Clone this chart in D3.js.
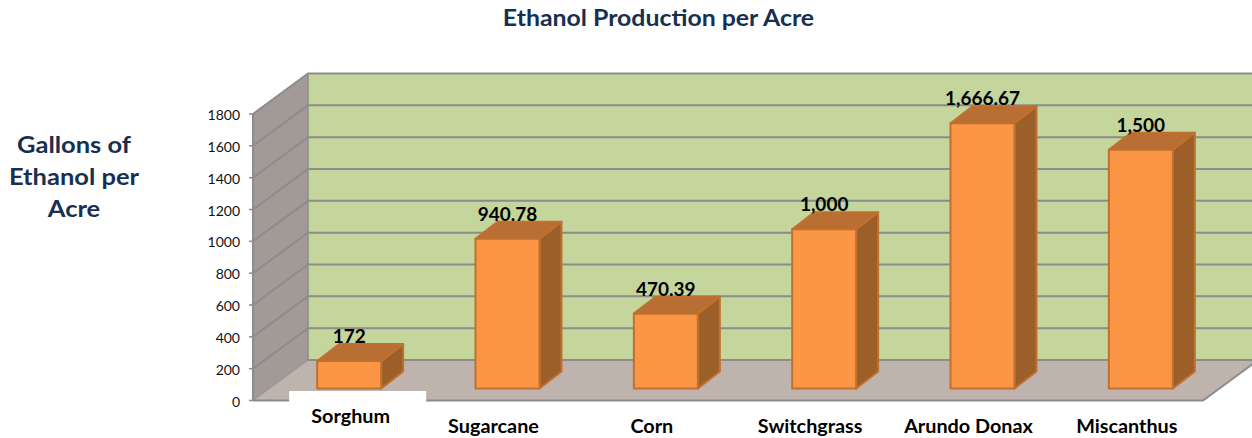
<!DOCTYPE html>
<html>
<head>
<meta charset="utf-8">
<script src="https://d3js.org/d3.v7.min.js"></script>
<style>
  html, body { margin: 0; padding: 0; background: #fff; }
  svg { display: block; }
  text { font-family: Lato, "Open Sans", sans-serif; }
</style>
</head>
<body>
<div id="chart"></div>
<script>
const categories = ["Sorghum", "Sugarcane", "Corn", "Switchgrass", "Arundo Donax", "Miscanthus"];
const values = [172, 940.78, 470.39, 1000, 1666.67, 1500];
const valueLabels = ["172", "940.78", "470.39", "1,000", "1,666.67", "1,500"];
const yTicks = [0, 200, 400, 600, 800, 1000, 1200, 1400, 1600, 1800];
const yTitleLines = ["Gallons of", "Ethanol per", "Acre"];
const chartTitle = "Ethanol Production per Acre";

const width = 1252, height = 438;
const NAVY = "#17304f";

// 3D 盒子的进深
const WALL_DX = 55, WALL_DY = -40.5;
const BAR_DX = 22, BAR_DY = -17;
const FRONT_LEFT = 253, FRONT_RIGHT = 1203;

const svg = d3.select("#chart").append("svg")
    .attr("width", width)
    .attr("height", height);

// 前平面的 Y 轴比例尺
const y = d3.scaleLinear().domain([0, 1800]).range([400.5, 114]);
// 柱子站在离前沿稍靠里的平面上
const barY = d3.scaleLinear().domain([0, 1800]).range([388.5, 102]);

const x = d3.scaleBand()
    .domain(categories)
    .range([FRONT_LEFT + 17, FRONT_RIGHT + 17])
    .paddingInner(0.596)
    .paddingOuter(0.298);

const poly = pts => pts.map(p => p.join(",")).join(" ");

// 原图的字比 Lato 宽，按比例横向拉伸
const stretch = (sel, factor) => {
    const len = sel.node().getComputedTextLength();
    sel.attr("textLength", len * factor).attr("lengthAdjust", "spacingAndGlyphs");
};

// 背板
svg.append("polygon")
    .attr("points", poly([
        [FRONT_LEFT + WALL_DX, y(1800) + WALL_DY],
        [width + 2, y(1800) + WALL_DY],
        [width + 2, y(0) + WALL_DY],
        [FRONT_LEFT + WALL_DX, y(0) + WALL_DY]
    ]))
    .attr("fill", "#c4d69b");

// 左侧墙
svg.append("polygon")
    .attr("points", poly([
        [FRONT_LEFT, y(1800)],
        [FRONT_LEFT + WALL_DX, y(1800) + WALL_DY],
        [FRONT_LEFT + WALL_DX, y(0) + WALL_DY],
        [FRONT_LEFT, y(0)]
    ]))
    .attr("fill", "#a29a96");

// 地板
svg.append("polygon")
    .attr("points", poly([
        [FRONT_LEFT, y(0)],
        [FRONT_LEFT + WALL_DX, y(0) + WALL_DY],
        [FRONT_RIGHT + WALL_DX, y(0) + WALL_DY],
        [FRONT_RIGHT, y(0)]
    ]))
    .attr("fill", "#bfb3ae");

// 网格线
const GRID = "#8c8c8c";
yTicks.forEach(t => {
    if (t > 0) {
        svg.append("polyline")
            .attr("points", poly([
                [FRONT_LEFT, y(t)],
                [FRONT_LEFT + WALL_DX, y(t) + WALL_DY],
                [width + 2, y(t) + WALL_DY]
            ]))
            .attr("fill", "none")
            .attr("stroke", GRID)
            .attr("stroke-width", 2);
    }
    svg.append("line")
        .attr("x1", FRONT_LEFT - 4)
        .attr("x2", FRONT_LEFT)
        .attr("y1", y(t))
        .attr("y2", y(t))
        .attr("stroke", GRID)
        .attr("stroke-width", 1.5);
    svg.append("text")
        .attr("x", FRONT_LEFT - 13)
        .attr("y", y(t) + 6)
        .attr("text-anchor", "end")
        .attr("font-size", 14)
        .attr("fill", "#111")
        .text(t);
});

// 墙和地板的边线
svg.append("polyline")
    .attr("points", poly([
        [FRONT_LEFT + WALL_DX, y(0) + WALL_DY],
        [FRONT_LEFT + WALL_DX, y(1800) + WALL_DY]
    ]))
    .attr("stroke", GRID)
    .attr("stroke-width", 1.5);
svg.append("polyline")
    .attr("points", poly([
        [FRONT_LEFT, y(0)],
        [FRONT_LEFT, y(1800)]
    ]))
    .attr("stroke", GRID)
    .attr("stroke-width", 2);
svg.append("polyline")
    .attr("points", poly([
        [FRONT_LEFT, y(0)],
        [FRONT_LEFT + WALL_DX, y(0) + WALL_DY]
    ]))
    .attr("fill", "none")
    .attr("stroke", GRID)
    .attr("stroke-width", 1);
svg.append("polyline")
    .attr("points", poly([
        [FRONT_LEFT, y(0)],
        [FRONT_RIGHT, y(0)],
        [FRONT_RIGHT + WALL_DX, y(0) + WALL_DY],
        [FRONT_LEFT + WALL_DX, y(0) + WALL_DY]
    ]))
    .attr("fill", "none")
    .attr("stroke", GRID)
    .attr("stroke-width", 2);

// 柱子
const BAR_STROKE = "#c0702f";
categories.forEach((c, i) => {
    const x0 = x(c), x1 = x0 + x.bandwidth();
    const top = barY(values[i]), bottom = barY(0);
    const g = svg.append("g")
        .attr("stroke", BAR_STROKE)
        .attr("stroke-width", 2)
        .attr("stroke-linejoin", "round");

    g.append("polygon")
        .attr("points", poly([
            [x1, top], [x1 + BAR_DX, top + BAR_DY],
            [x1 + BAR_DX, bottom + BAR_DY], [x1, bottom]
        ]))
        .attr("fill", "#9c5f2a");
    g.append("polygon")
        .attr("points", poly([
            [x0, top], [x0 + BAR_DX, top + BAR_DY],
            [x1 + BAR_DX, top + BAR_DY], [x1, top]
        ]))
        .attr("fill", "#b96f33");
    g.append("rect")
        .attr("x", x0)
        .attr("y", top)
        .attr("width", x.bandwidth())
        .attr("height", bottom - top)
        .attr("fill", "#fa9646");

    const label = svg.append("text")
        .attr("x", x0 + x.bandwidth() / 2)
        .attr("y", top + BAR_DY - 1)
        .attr("text-anchor", "middle")
        .attr("font-size", 19)
        .attr("font-weight", 700)
        .attr("fill", "#000")
        .text(valueLabels[i]);
    stretch(label, 1.0);
});

// Sorghum 标签后面的白块
const firstCenter = x(categories[0]) + x.bandwidth() / 2;
svg.append("rect")
    .attr("x", firstCenter - 60)
    .attr("y", 391)
    .attr("width", 137)
    .attr("height", 36)
    .attr("fill", "#fff");

// 类别标签
categories.forEach((c, i) => {
    const cx = x(c) + x.bandwidth() / 2;
    const label = svg.append("text")
        .attr("x", i === 0 ? cx + 1.5 : cx - 14)
        .attr("y", i === 0 ? 423 : 433)
        .attr("text-anchor", "middle")
        .attr("font-size", 18.5)
        .attr("font-weight", 700)
        .attr("fill", "#000")
        .text(c);
    stretch(label, 1.07);
});

// 标题
const titleText = svg.append("text")
    .attr("x", 658.5)
    .attr("y", 26)
    .attr("text-anchor", "middle")
    .attr("font-size", 23)
    .attr("font-weight", 700)
    .attr("fill", NAVY)
    .text(chartTitle);
stretch(titleText, 1.08);

// Y 轴标题
yTitleLines.forEach((line, i) => {
    const t = svg.append("text")
        .attr("x", 74)
        .attr("y", 153 + i * 32)
        .attr("text-anchor", "middle")
        .attr("font-size", 23.5)
        .attr("font-weight", 700)
        .attr("fill", NAVY)
        .text(line);
    stretch(t, 1.085);
});
</script>
</body>
</html>
